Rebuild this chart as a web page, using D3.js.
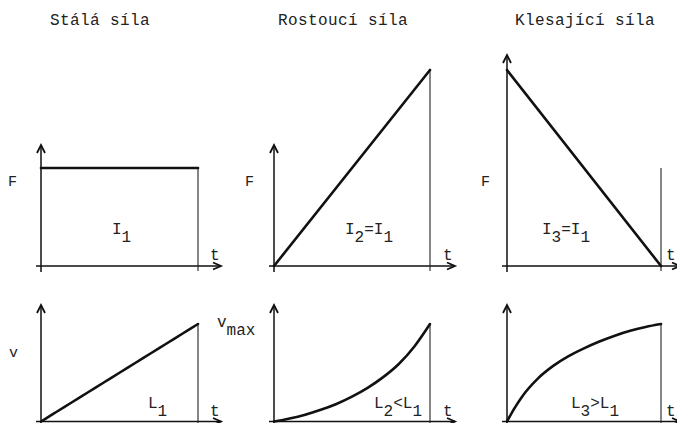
<!DOCTYPE html>
<html>
<head>
<meta charset="utf-8">
<script src="https://cdn.jsdelivr.net/npm/d3@7/dist/d3.min.js"></script>
<style>
  html, body { margin: 0; padding: 0; background: #fff; }
  svg { display: block; }
  text { font-family: "Liberation Mono", "DejaVu Sans Mono", monospace; fill: #222; }
</style>
</head>
<body>
<div id="chart"></div>
<script>
// Column titles
const titles = ["Stálá síla", "Rostoucí síla", "Klesající síla"];

// Force against time (relative units, peak = 2)
const forceTimes = [0, 1];
const forceStala = [1, 1];
const forceRostouci = [0, 2];
const forceKlesajici = [2, 0];

// Velocity against time (relative to v_max)
const velTimes = [0, 0.05, 0.1, 0.2, 0.3, 0.4, 0.5, 0.6, 0.7, 0.8, 0.9, 1];
const velStala = [0, 0.05, 0.1, 0.2, 0.3, 0.4, 0.5, 0.6, 0.7, 0.8, 0.9, 1];
const velRostouci = [0, 0.013, 0.03, 0.07, 0.12, 0.18, 0.255, 0.345, 0.455, 0.59, 0.77, 1];
const velKlesajici = [0, 0.14, 0.26, 0.44, 0.57, 0.67, 0.75, 0.82, 0.88, 0.93, 0.97, 1];

// Labels inside the panels: [text, isSubscript]
const impulseLabels = [
  [["I", false], ["1", true]],
  [["I", false], ["2", true], ["=I", false], ["1", true]],
  [["I", false], ["3", true], ["=I", false], ["1", true]]
];
const pathLabels = [
  [["L", false], ["1", true]],
  [["L", false], ["2", true], ["<L", false], ["1", true]],
  [["L", false], ["3", true], [">L", false], ["1", true]]
];

const W = 677, H = 423;
const svg = d3.select("#chart").append("svg")
  .attr("width", W)
  .attr("height", H);

// Panel layout
const cols = [
  { x0: 41, x1: 198, titleX: 50, labelX: 8, impX: 112, pathX: 148, axisEnd: 221, tX: 210 },
  { x0: 274, x1: 430, titleX: 278, labelX: 245, impX: 345, pathX: 374, axisEnd: 455, tX: 443 },
  { x0: 507, x1: 661, titleX: 515, labelX: 481, impX: 542, pathX: 571, axisEnd: 680, tX: 666 }
];
const topRow = { base: 266, top: 70, fMax: 2, arrowTips: [145, 145, 55] };
const botRow = { base: 421.5, top: 324, arrowTip: 305 };

const forceSeries = [forceStala, forceRostouci, forceKlesajici];
const velSeries = [velStala, velRostouci, velKlesajici];

// Titles
svg.selectAll("text.title")
  .data(titles)
  .enter().append("text")
  .attr("class", "title")
  .attr("x", (d, i) => cols[i].titleX)
  .attr("y", 25)
  .style("font-size", "16px")
  .style("letter-spacing", "0.4px")
  .text(d => d);

function arrowUp(g, x, y) {
  g.append("path")
    .attr("d", `M${x - 4},${y + 8} L${x},${y} L${x + 4},${y + 8}`)
    .attr("fill", "none")
    .attr("stroke", "#111")
    .attr("stroke-width", 1.8);
}
function arrowRight(g, x, y) {
  g.append("path")
    .attr("d", `M${x - 8},${y - 3.5} L${x},${y} L${x - 8},${y + 3.5}`)
    .attr("fill", "none")
    .attr("stroke", "#111")
    .attr("stroke-width", 1.8);
}

function richText(g, parts, x, y) {
  const t = g.append("text")
    .attr("x", x)
    .attr("y", y)
    .style("font-size", "16px");
  parts.forEach(([s, sub], k) => {
    const prevSub = k > 0 && parts[k - 1][1];
    const dy = sub && !prevSub ? 8 : (!sub && prevSub ? -8 : 0);
    t.append("tspan").attr("dy", dy).text(s);
  });
  return t;
}

function drawPanel(col, i, yScale, times, values, opts) {
  const g = svg.append("g");
  const x = d3.scaleLinear().domain([0, 1]).range([col.x0, col.x1]);
  const base = yScale(0);

  // axes
  g.append("line")
    .attr("x1", col.x0).attr("x2", col.x0)
    .attr("y1", base + 6).attr("y2", opts.arrowTip)
    .attr("stroke", "#111").attr("stroke-width", 1.5);
  arrowUp(g, col.x0, opts.arrowTip);
  g.append("line")
    .attr("x1", col.x0 - 5).attr("x2", col.axisEnd)
    .attr("y1", base).attr("y2", base)
    .attr("stroke", "#111").attr("stroke-width", 1.6);
  arrowRight(g, col.axisEnd, base);

  // closing vertical at t = 1
  g.append("line")
    .attr("x1", x(1)).attr("x2", x(1))
    .attr("y1", yScale(opts.closeTo)).attr("y2", base + 5)
    .attr("stroke", "#222").attr("stroke-width", 1.1);

  // curve
  const line = d3.line()
    .x((d, k) => x(times[k]))
    .y(d => yScale(d))
    .curve(d3.curveMonotoneX);
  g.append("path")
    .datum(values)
    .attr("d", line)
    .attr("fill", "none")
    .attr("stroke", "#111")
    .attr("stroke-width", 2.6)
    .attr("stroke-linecap", "round");

  // "t" label
  g.append("text")
    .attr("x", col.tX)
    .attr("y", base - 6)
    .style("font-size", "16px")
    .text("t");
  return g;
}

// Top row: force
cols.forEach((col, i) => {
  const y = d3.scaleLinear().domain([0, topRow.fMax]).range([topRow.base, topRow.top]);
  const vals = forceSeries[i];
  const closeTo = i === 2 ? 1 : vals[vals.length - 1];
  const g = drawPanel(col, i, y, forceTimes, vals, { arrowTip: topRow.arrowTips[i], closeTo });
  g.append("text")
    .attr("x", col.labelX)
    .attr("y", 186)
    .style("font-size", "15px")
    .text("F");
  richText(g, impulseLabels[i], col.impX, 234);
});

// Bottom row: velocity
cols.forEach((col, i) => {
  const y = d3.scaleLinear().domain([0, 1]).range([botRow.base, botRow.top]);
  const vals = velSeries[i];
  const g = drawPanel(col, i, y, velTimes, vals, { arrowTip: botRow.arrowTip, closeTo: vals[vals.length - 1] });
  richText(g, pathLabels[i], col.pathX, 408);
});

// v and v_max labels
svg.append("text")
  .attr("x", 9).attr("y", 357)
  .style("font-size", "15px")
  .text("v");
richText(svg, [["v", false], ["max", true]], 217, 327);
</script>
</body>
</html>
